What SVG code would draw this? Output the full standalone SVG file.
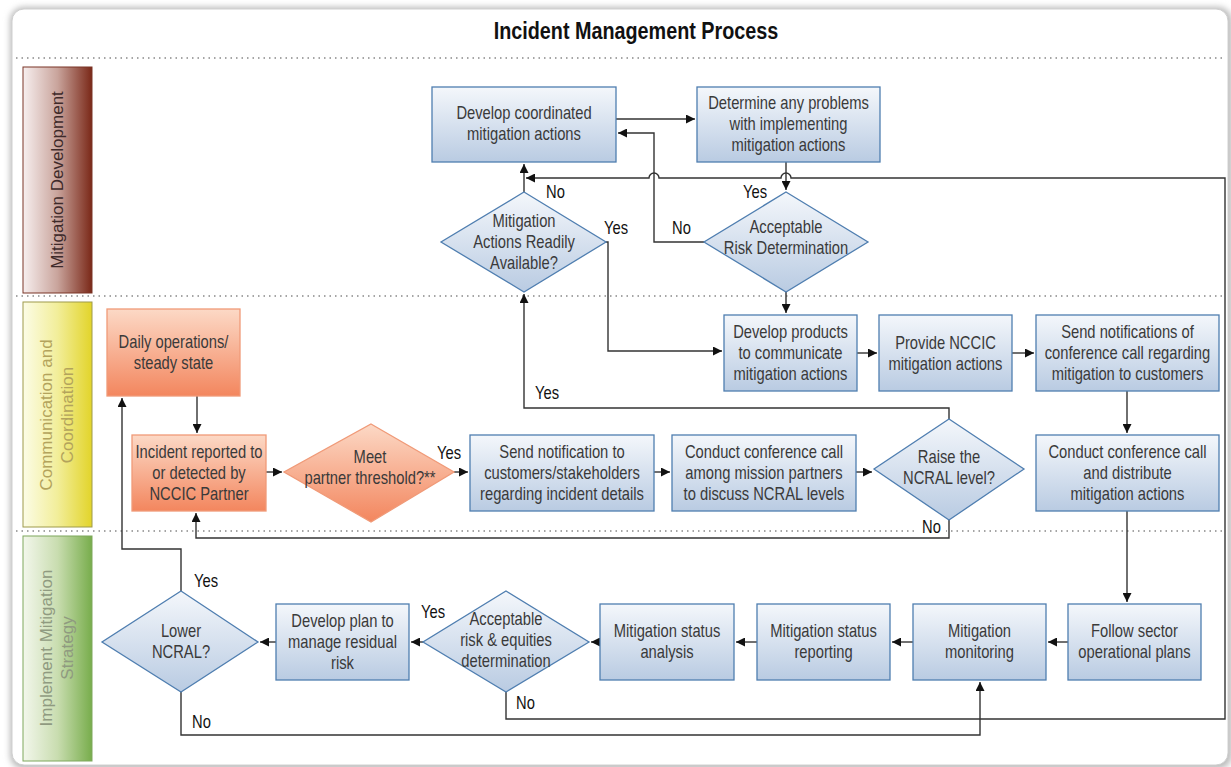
<svg xmlns="http://www.w3.org/2000/svg" width="1231" height="767" viewBox="0 0 1231 767">
<defs>
<linearGradient id="gb" x1="0" y1="0" x2="0" y2="1"><stop offset="0" stop-color="#f4f7fb"/><stop offset="1" stop-color="#b9cbe2"/></linearGradient>
<linearGradient id="go" x1="0" y1="0" x2="0" y2="1"><stop offset="0" stop-color="#fcd9c6"/><stop offset="1" stop-color="#f3865e"/></linearGradient>
<linearGradient id="l1" x1="0" y1="0" x2="1" y2="0"><stop offset="0" stop-color="#f7efef"/><stop offset="0.5" stop-color="#c9a49c"/><stop offset="1" stop-color="#7a2818"/></linearGradient>
<linearGradient id="l2" x1="0" y1="0" x2="1" y2="0"><stop offset="0" stop-color="#fcfce6"/><stop offset="0.5" stop-color="#f2ee9a"/><stop offset="1" stop-color="#e2d42a"/></linearGradient>
<linearGradient id="l3" x1="0" y1="0" x2="1" y2="0"><stop offset="0" stop-color="#f3f7ec"/><stop offset="0.5" stop-color="#c9ddb0"/><stop offset="1" stop-color="#78ad4c"/></linearGradient>
<filter id="sh" x="-5%" y="-5%" width="110%" height="110%"><feGaussianBlur stdDeviation="3"/></filter>
<marker id="ah" viewBox="0 0 10 10" refX="10" refY="5" markerWidth="9" markerHeight="9" markerUnits="userSpaceOnUse" orient="auto"><path d="M0,0 L10,5 L0,10 z" fill="#111"/></marker>
<style>
.box{fill:url(#gb);stroke:#4f7eb0;stroke-width:1.3}
.obox{fill:url(#go);stroke:#f09a78;stroke-width:1.3}
.t{font-family:"Liberation Sans",Arial,sans-serif;font-size:18px;fill:#3a3a3a;text-anchor:middle}
.lb{font-family:"Liberation Sans",Arial,sans-serif;font-size:18px;fill:#111}
.ln{fill:none;stroke:#333;stroke-width:1.4}
.ar{marker-end:url(#ah)}
.dot{stroke:#888;stroke-width:1.5;stroke-dasharray:1.5 4}
.lane{font-family:"Liberation Sans",Arial,sans-serif;font-size:17px;text-anchor:middle}
</style>
</defs>
<rect width="1231" height="767" fill="#fff"/>
<rect x="10" y="7" width="1222" height="762" rx="14" fill="#bbb" filter="url(#sh)"/>
<rect x="12" y="9" width="1216" height="756" rx="12" fill="#fff" stroke="#d0d0d0" stroke-width="1"/>
<text transform="translate(636,0) scale(0.86,1)" x="0" y="39" font-family="Liberation Sans,Arial,sans-serif" font-size="23" font-weight="bold" text-anchor="middle" fill="#111">Incident Management Process</text>
<g id="dividers">
<line class="dot" x1="16" y1="58" x2="1225" y2="58"/>
<line class="dot" x1="16" y1="296" x2="1225" y2="296"/>
<line class="dot" x1="16" y1="531" x2="1225" y2="531"/>
</g>
<g id="lane-mitigation-development">
<rect x="23" y="67" width="69" height="226" fill="url(#l1)" stroke="#7a3426" stroke-width="1"/>
<text class="lane" transform="translate(63,180) rotate(-90)" fill="#3e2a2a">Mitigation Development</text>
</g>
<g id="lane-communication">
<rect x="23" y="302" width="69" height="225" fill="url(#l2)" stroke="#9e9a4a" stroke-width="1"/>
<text class="lane" transform="translate(52,415) rotate(-90)" fill="#b3a35c">Communication and</text>
<text class="lane" transform="translate(73,415) rotate(-90)" fill="#b3a35c">Coordination</text>
</g>
<g id="lane-implement">
<rect x="23" y="536" width="69" height="225" fill="url(#l3)" stroke="#7ea85c" stroke-width="1"/>
<text class="lane" transform="translate(52,648) rotate(-90)" fill="#8f9a80">Implement Mitigation</text>
<text class="lane" transform="translate(73,648) rotate(-90)" fill="#8f9a80">Strategy</text>
</g>
<g id="connectors">
<path class="ln ar" d="M616,119 H695"/>
<path class="ln ar" d="M704,242 H654 V133 H618"/>
<path class="ln ar" d="M786,162 V190"/>
<path class="ln ar" d="M506,692 V719 H1225 V178 H791 a5,5 0 0 0 -10,0 H659 a5,5 0 0 0 -10,0 H526"/>
<path class="ln ar" d="M524,192 V164"/>
<path class="ln ar" d="M606,242 H608 V351 H722"/>
<path class="ln ar" d="M786,292 V313"/>
<path class="ln ar" d="M857,353 H877"/>
<path class="ln ar" d="M1012,353 H1034"/>
<path class="ln ar" d="M1127,391 V433"/>
<path class="ln ar" d="M1127,511 V602"/>
<path class="ln ar" d="M197,396 V433"/>
<path class="ln ar" d="M266,472 H282"/>
<path class="ln ar" d="M454,472 H468"/>
<path class="ln ar" d="M654,472 H670"/>
<path class="ln ar" d="M856,472 H872"/>
<path class="ln ar" d="M949,419 V408 H524 V294"/>
<path class="ln ar" d="M949,520 V538 H196 V513"/>
<path class="ln ar" d="M1068,642 H1048"/>
<path class="ln ar" d="M913,642 H892"/>
<path class="ln ar" d="M757,642 H736"/>
<path class="ln ar" d="M600,642 H591"/>
<path class="ln ar" d="M423,642 H411"/>
<path class="ln ar" d="M276,642 H260"/>
<path class="ln ar" d="M181,591 V549 H122 V398"/>
<path class="ln ar" d="M181,692 V735 H980 V682"/>
<rect x="918" y="520" width="28" height="16" fill="#fff"/>
<text class="lb" transform="translate(546,0) scale(0.82,1)" x="0" y="198">No</text>
<text class="lb" transform="translate(604,0) scale(0.82,1)" x="0" y="234">Yes</text>
<text class="lb" transform="translate(672,0) scale(0.82,1)" x="0" y="234">No</text>
<text class="lb" transform="translate(743,0) scale(0.82,1)" x="0" y="198">Yes</text>
<text class="lb" transform="translate(535,0) scale(0.82,1)" x="0" y="399">Yes</text>
<text class="lb" transform="translate(437,0) scale(0.82,1)" x="0" y="459">Yes</text>
<text class="lb" transform="translate(922,0) scale(0.82,1)" x="0" y="533">No</text>
<text class="lb" transform="translate(194,0) scale(0.82,1)" x="0" y="587">Yes</text>
<text class="lb" transform="translate(192,0) scale(0.82,1)" x="0" y="728">No</text>
<text class="lb" transform="translate(421,0) scale(0.82,1)" x="0" y="618">Yes</text>
<text class="lb" transform="translate(516,0) scale(0.82,1)" x="0" y="709">No</text>
</g>
<g id="n-develop-coordinated"><rect class="box" x="432" y="87" width="184" height="75"/><text class="t" transform="translate(524,0) scale(0.82,1)"><tspan x="0" y="119.5">Develop coordinated</tspan><tspan x="0" y="140.5">mitigation actions</tspan></text></g>
<g id="n-determine-problems"><rect class="box" x="697" y="87" width="183" height="75"/><text class="t" transform="translate(788.5,0) scale(0.82,1)"><tspan x="0" y="109">Determine any problems</tspan><tspan x="0" y="130">with implementing</tspan><tspan x="0" y="151">mitigation actions</tspan></text></g>
<g id="d-mitigation-available"><polygon class="box" points="524,192 606,242 524,292 441,242"/><text class="t" transform="translate(524,0) scale(0.82,1)"><tspan x="0" y="227">Mitigation</tspan><tspan x="0" y="248">Actions Readily</tspan><tspan x="0" y="269">Available?</tspan></text></g>
<g id="d-acceptable-risk"><polygon class="box" points="786,192 868,242 786,292 704,242"/><text class="t" transform="translate(786,0) scale(0.82,1)"><tspan x="0" y="233">Acceptable</tspan><tspan x="0" y="254">Risk Determination</tspan></text></g>
<g id="n-daily-ops"><rect class="obox" x="107" y="309" width="133" height="87"/><text class="t" transform="translate(173.5,0) scale(0.82,1)"><tspan x="0" y="348">Daily operations/</tspan><tspan x="0" y="369">steady state</tspan></text></g>
<g id="n-incident-reported"><rect class="obox" x="132" y="435" width="134" height="76"/><text class="t" transform="translate(199,0) scale(0.82,1)"><tspan x="0" y="458">Incident reported to</tspan><tspan x="0" y="479">or detected by</tspan><tspan x="0" y="500">NCCIC Partner</tspan></text></g>
<g id="d-partner-threshold"><polygon class="obox" points="371,424 454,472 371,522 284,472"/><text class="t" transform="translate(370,0) scale(0.82,1)"><tspan x="0" y="463">Meet</tspan><tspan x="0" y="484">partner threshold?**</tspan></text></g>
<g id="n-send-notification"><rect class="box" x="470" y="435" width="184" height="76"/><text class="t" transform="translate(562,0) scale(0.82,1)"><tspan x="0" y="458">Send notification to</tspan><tspan x="0" y="479">customers/stakeholders</tspan><tspan x="0" y="500">regarding incident details</tspan></text></g>
<g id="n-conference-partners"><rect class="box" x="672" y="435" width="184" height="76"/><text class="t" transform="translate(764,0) scale(0.82,1)"><tspan x="0" y="458">Conduct conference call</tspan><tspan x="0" y="479">among mission partners</tspan><tspan x="0" y="500">to discuss NCRAL levels</tspan></text></g>
<g id="d-raise-ncral"><polygon class="box" points="949,419 1024,469 949,520 874,469"/><text class="t" transform="translate(949,0) scale(0.82,1)"><tspan x="0" y="463">Raise the</tspan><tspan x="0" y="484">NCRAL level?</tspan></text></g>
<g id="n-develop-products"><rect class="box" x="724" y="315" width="133" height="76"/><text class="t" transform="translate(790.5,0) scale(0.82,1)"><tspan x="0" y="338">Develop products</tspan><tspan x="0" y="359">to communicate</tspan><tspan x="0" y="380">mitigation actions</tspan></text></g>
<g id="n-provide-nccic"><rect class="box" x="879" y="315" width="133" height="76"/><text class="t" transform="translate(945.5,0) scale(0.82,1)"><tspan x="0" y="349">Provide NCCIC</tspan><tspan x="0" y="370">mitigation actions</tspan></text></g>
<g id="n-send-notifications"><rect class="box" x="1036" y="315" width="183" height="76"/><text class="t" transform="translate(1127.5,0) scale(0.82,1)"><tspan x="0" y="338">Send notifications of</tspan><tspan x="0" y="359">conference call regarding</tspan><tspan x="0" y="380">mitigation to customers</tspan></text></g>
<g id="n-conference-distribute"><rect class="box" x="1036" y="435" width="183" height="76"/><text class="t" transform="translate(1127.5,0) scale(0.82,1)"><tspan x="0" y="458">Conduct conference call</tspan><tspan x="0" y="479">and distribute</tspan><tspan x="0" y="500">mitigation actions</tspan></text></g>
<g id="n-follow-sector"><rect class="box" x="1068" y="604" width="133" height="76"/><text class="t" transform="translate(1134.5,0) scale(0.82,1)"><tspan x="0" y="637.5">Follow sector</tspan><tspan x="0" y="658.5">operational plans</tspan></text></g>
<g id="n-monitoring"><rect class="box" x="913" y="604" width="133" height="76"/><text class="t" transform="translate(979.5,0) scale(0.82,1)"><tspan x="0" y="637.5">Mitigation</tspan><tspan x="0" y="658.5">monitoring</tspan></text></g>
<g id="n-status-reporting"><rect class="box" x="757" y="604" width="133" height="76"/><text class="t" transform="translate(823.5,0) scale(0.82,1)"><tspan x="0" y="637.5">Mitigation status</tspan><tspan x="0" y="658.5">reporting</tspan></text></g>
<g id="n-status-analysis"><rect class="box" x="600" y="604" width="134" height="76"/><text class="t" transform="translate(667,0) scale(0.82,1)"><tspan x="0" y="637.5">Mitigation status</tspan><tspan x="0" y="658.5">analysis</tspan></text></g>
<g id="d-acceptable-equities"><polygon class="box" points="506,591 589,642 506,692 423,642"/><text class="t" transform="translate(506,0) scale(0.82,1)"><tspan x="0" y="625">Acceptable</tspan><tspan x="0" y="646">risk &amp; equities</tspan><tspan x="0" y="667">determination</tspan></text></g>
<g id="n-residual-risk"><rect class="box" x="276" y="604" width="133" height="76"/><text class="t" transform="translate(342.5,0) scale(0.82,1)"><tspan x="0" y="627">Develop plan to</tspan><tspan x="0" y="648">manage residual</tspan><tspan x="0" y="669">risk</tspan></text></g>
<g id="d-lower-ncral"><polygon class="box" points="181,591 258,642 181,692 102,642"/><text class="t" transform="translate(181,0) scale(0.82,1)"><tspan x="0" y="637.5">Lower</tspan><tspan x="0" y="658.5">NCRAL?</tspan></text></g>
</svg>
